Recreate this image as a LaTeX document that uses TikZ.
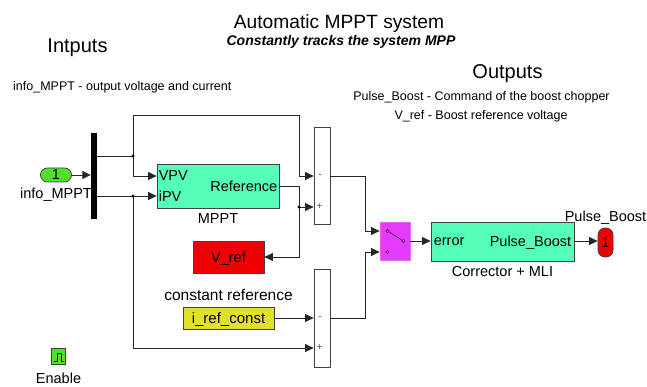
\documentclass[tikz,border=0pt]{standalone}
\usepackage{fontspec}
\setmainfont{Liberation Sans}
\usetikzlibrary{arrows.meta,positioning,calc}
\definecolor{blockgreen}{RGB}{85,255,185}
\definecolor{portgreen}{RGB}{80,225,40}
\definecolor{refred}{RGB}{240,0,0}
\definecolor{constyellow}{RGB}{225,225,45}
\definecolor{switchpink}{RGB}{228,60,250}

\begin{document}
\begin{tikzpicture}[x=1pt, y=-1pt,
      blk/.style={draw=black!75, line width=0.8pt, inner sep=0pt},
      wire/.style={line width=0.9pt, black!85},
      sig/.style={wire, -{Triangle[length=8.5pt,width=8pt]}},
      lbl/.style={font=\fontsize{14.5}{16}\selectfont, text depth=0pt, inner sep=0pt},
      note/.style={font=\fontsize{12.5}{14}\selectfont, inner sep=0pt},
      sign/.style={font=\fontsize{10}{10}\selectfont, black!70, inner sep=0pt}]
      \useasboundingbox (0,0) rectangle (647,387);
      % Titles and notes
      \node[anchor=base, font=\fontsize{19.2}{22}\selectfont, inner sep=0pt] (title) at (339,28.5) {Automatic MPPT system};
      \node[anchor=base, font=\fontsize{14}{16}\selectfont\bfseries\itshape, inner sep=0pt] (subtitle) at (341,46) {Constantly tracks the system MPP};
      \node[anchor=base, font=\fontsize{20}{22}\selectfont, inner sep=0pt] (inlabel) at (77.5,53) {Intputs};
      \node[note, anchor=base west] (innote) at (13,91) {info\_MPPT - output voltage and current};
      \node[anchor=base, font=\fontsize{20}{22}\selectfont, inner sep=0pt] (outlabel) at (507.5,79) {Outputs};
      \node[note, anchor=base] (outnote1) at (481.5,101) {Pulse\_Boost - Command of the boost chopper};
      \node[note, anchor=base] (outnote2) at (481,120) {V\_ref - Boost reference voltage};
      % Blocks
      \node[blk, rounded corners=7pt, fill=portgreen, minimum width=31pt, minimum height=14pt, lbl] (inp) at (56,175) {1};
      \node[fill=black, minimum width=6pt, minimum height=86pt, inner sep=0pt] (demux) at (94,176) {};
      \node[blk, fill=blockgreen, minimum width=122pt, minimum height=44pt] (mppt) at (218,186) {};
      \node[blk, fill=refred, minimum width=71pt, minimum height=32pt, lbl] (vref) at (228.5,257) {V\_ref};
      \node[blk, fill=constyellow, minimum width=91pt, minimum height=22pt, lbl, font=\fontsize{15}{16}\selectfont] (iref) at (228.5,318) {i\_ref\_const};
      \node[blk, fill=white, minimum width=16pt, minimum height=97pt] (sum1) at (322,175.5) {};
      \node[blk, fill=white, minimum width=16pt, minimum height=98pt] (sum2) at (322,318) {};
      \node[blk, fill=switchpink, draw=switchpink!80, minimum width=30pt, minimum height=38pt] (sw) at (395,241) {};
      \node[blk, fill=blockgreen, minimum width=143pt, minimum height=39pt] (corr) at (502.5,241.5) {};
      \node[blk, rounded corners=7pt, fill=refred, minimum width=15pt, minimum height=29pt, lbl] (outp) at (605.5,242.5) {1};
      \node[blk, fill=portgreen, minimum width=14pt, minimum height=16pt] (enable) at (58.5,356) {};
      % Block labels
      \node[lbl, below=5pt of inp] (inname) {info\_MPPT};
      \node[lbl, anchor=west] (vpv) at ($(mppt.west)+(2,-10)$) {VPV};
      \node[lbl, anchor=west] (ipv) at ($(mppt.west)+(2,10)$) {iPV};
      \node[lbl, anchor=east] (refout) at ($(mppt.east)+(-2,0)$) {Reference};
      \node[lbl, below=5pt of mppt] (mpptname) {MPPT};
      \node[lbl, anchor=west] (errin) at ($(corr.west)+(3,0)$) {error};
      \node[lbl, anchor=east] (pbout) at ($(corr.east)+(-3,0)$) {Pulse\_Boost};
      \node[lbl, below=5pt of corr] (corrname) {Corrector + MLI};
      \node[lbl, above=6pt of outp] (outname) {Pulse\_Boost};
      \node[lbl, font=\fontsize{15.5}{16}\selectfont, above=6pt of iref] (constname) {constant reference};
      \node[lbl, below=8pt of enable] (enname) {Enable};
      \node[sign] at (320,175.5) {-};
      \node[sign] at (319.5,207) {+};
      \node[sign] at (320,317.5) {-};
      \node[sign] at (319.5,348) {+};
      % Enable pulse icon
      \draw[line width=0.7pt] (54,361) -- (57,361) -- (57,353) -- (61,353) -- (61,361) -- (64,361);
      % Junctions
      \coordinate (j1) at (133,156);
      \coordinate (j2) at (133,196);
      \coordinate (j3) at (299,207);
      \coordinate (s2p) at ($(sum2.west)+(0,30)$);
      \coordinate (swin1) at ($(sw.west)+(0,-10)$);
      \coordinate (swin2) at ($(sw.west)+(0,11)$);
      % Input side
      \draw[sig] (inp.east) -- (inp.east -| demux.west);
      \draw[wire] (demux.east |- j1) -- (j1);
      \draw[wire] (demux.east |- j2) -- (j2);
      \draw[sig] (j1) |- (mppt.west |- vpv);
      \draw[sig] (j2) -- (mppt.west |- ipv);
      \draw[sig] (j1) |- (299,115) |- (sum1.west |- vpv);
      \draw[sig] (j2) |- (s2p);
      % Reference loop
      \draw[wire] (mppt.east) -| (j3);
      \draw[sig] (j3) -- (sum1.west |- j3);
      \draw[sig] (j3) |- (vref.east);
      \draw[sig] (iref.east) -- (sum2.west);
      % Error to switch
      \draw[sig] (sum1.east |- vpv) -| ($(swin1)+(-14,0)$) -- (swin1);
      \draw[sig] (sum2.east) -| ($(swin2)+(-14,0)$) -- (swin2);
      \draw[sig] (sw.east) -- (sw.east -| corr.west);
      \draw[sig] (corr.east |- sw.east) -- (outp.west |- sw.east);
      % Switch contacts
      \draw[line width=0.7pt, switchpink!40!black] ($(swin1)+(8,0)$) -- ($(sw.east)+(-7,0)$);
      \foreach \p in {swin1, swin2} {
        \draw[line width=0.6pt, switchpink!40!black, fill=switchpink] ($(\p)+(8,0)$) circle[radius=1.7pt];
      }
      \draw[line width=0.6pt, switchpink!40!black, fill=switchpink] ($(sw.east)+(-7,0)$) circle[radius=1.7pt];
      \foreach \j in {j1, j2, j3} {
        \fill (\j) circle[radius=1.6pt];
      }
\end{tikzpicture}
\end{document}
